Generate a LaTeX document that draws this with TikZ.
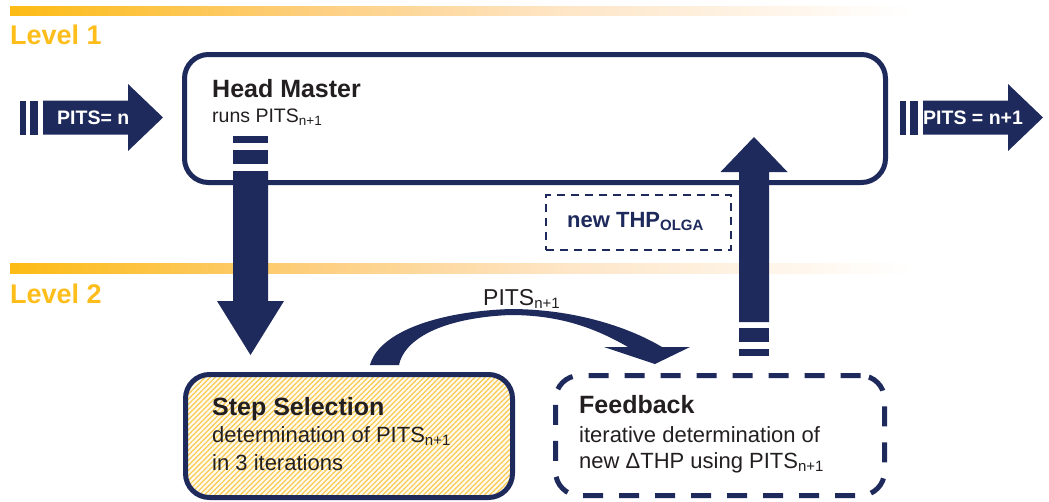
\documentclass[tikz,border=0pt]{standalone}
\usepackage{fontspec}
\usepackage{graphicx}
\setmainfont{Liberation Sans}
\usetikzlibrary{patterns.meta,calc}

\definecolor{navy}{RGB}{30,42,92}
\definecolor{gold}{RGB}{253,189,26}
\definecolor{ink}{RGB}{35,31,32}
\definecolor{hatch}{RGB}{250,202,80}
\definecolor{cream}{RGB}{255,251,238}
\definecolor{barA}{RGB}{253,187,20}
\definecolor{barB}{RGB}{253,207,128}
\definecolor{barC}{RGB}{254,230,200}
\definecolor{barD}{RGB}{255,255,255}

% lowered, smaller index text
\newcommand{\lowidx}[2]{\raisebox{-3.5pt}{\fontsize{#1}{#1}\selectfont #2}}

% fading rule for the level headings (the path spans 25bp to 75bp)
\pgfdeclarehorizontalshading{levelbar}{100bp}{%
  color(0bp)=(barA); color(25bp)=(barA); color(42bp)=(barB);
  color(56bp)=(barC); color(75bp)=(barD); color(100bp)=(barD)}

\begin{document}
\begin{tikzpicture}[x=1pt,y=-1pt,
  leveltext/.style={anchor=base west,inner sep=0pt,text=gold,
    font=\bfseries\fontsize{27}{27}\selectfont},
  title/.style={anchor=base west,inner sep=0pt,text=ink,
    font=\bfseries\fontsize{25}{25}\selectfont},
  body/.style={anchor=base west,inner sep=0pt,text=ink,
    font=\fontsize{22}{22}\selectfont},
  roundbox/.style={line width=5pt,rounded corners=24pt,inner sep=0pt,
    outer sep=0pt},
  hmbox/.style={roundbox,draw=navy,minimum width=701pt,minimum height=128pt},
  stepbox/.style={roundbox,draw=navy,minimum width=327pt,minimum height=123pt,
    preaction={fill=cream},
    pattern={Lines[angle=45,distance=3.6pt,line width=1.2pt]},
    pattern color=hatch},
  fbbox/.style={roundbox,draw=navy,dash pattern=on 20pt off 16pt,
    minimum width=329pt,minimum height=120pt},
  thpbox/.style={draw=navy,line width=2pt,dash pattern=on 8pt off 6pt,
    minimum width=185pt,minimum height=55pt,inner sep=0pt},
  pics/fatarrow/.style args={#1/#2/#3/#4}{code={
    \fill[navy] (0,-#2) -- (#1,-#2) -- (#1,-#4) -- ({#1+#3},0)
      -- (#1,#4) -- (#1,#2) -- (0,#2) -- cycle;}},
  stripe/.style={fill=navy}
]
\useasboundingbox (0,0) rectangle (1049,501);

% level rules and headings
\shade[shading=levelbar] (10,6) rectangle (913,15);
\shade[shading=levelbar] (10,263) rectangle (913,273);
\node[leveltext] (lv1) at (10,44) {Level 1};
\node[leveltext] (lv2) at (10,303) {Level 2};

% boxes
\node[hmbox] (hm) at (535,118.5) {};
\node[stepbox] (ss) at (349,436) {};
\node[fbbox] (fb) at (720,435.5) {};
\node[thpbox] (thp) at (638.5,222.5) {};

% box texts
\node[title] (hmt) at (212,97) {Head Master};
\node[body,font=\fontsize{19.5}{19.5}\selectfont] (hms) at (212,122)
  {runs PITS\lowidx{13.5pt}{n+1}};
\node[title] (sst) at (212,415) {Step Selection};
\node[body] (ss1) at (212,442) {determination of PITS\lowidx{15pt}{n+1}};
\node[body] (ss2) at (212,470) {in 3 iterations};
\node[title] (fbt) at (579,413) {Feedback};
\node[body] (fb1) at (579,442) {iterative determination of};
\node[body] (fb2) at (579,468) {new ΔTHP using PITS\lowidx{15pt}{n+1}};
\node[anchor=base west,inner sep=0pt,text=navy,
  font=\bfseries\fontsize{22}{22}\selectfont] (thpt) at (567,227)
  {new THP\lowidx{15pt}{OLGA}};

% anchor points of the block arrows
\coordinate (inA) at (43,117.5);
\coordinate (outA) at (923,117.5);
\coordinate (downA) at (250.5,171);
\coordinate (upA) at (754,322);

% incoming PITS arrow
\fill[stripe] (20,100.5) rectangle (25.5,134.5);
\fill[stripe] (29.5,100.5) rectangle (38,134.5);
\pic at (inA) {fatarrow=85/17/35/33.5};
\node[anchor=west,inner sep=0pt,text=white,
  font=\bfseries\fontsize{19.5}{19.5}\selectfont] (inT) at (57,118) {PITS= n};

% outgoing PITS arrow
\fill[stripe] (900,100.5) rectangle (905.5,134.5);
\fill[stripe] (909.5,100.5) rectangle (918,134.5);
\pic at (outA) {fatarrow=85/17/35/33.5};
\node[anchor=west,inner sep=0pt,text=white,
  font=\bfseries\fontsize{19.5}{19.5}\selectfont] (outT) at (923,118) {PITS = n+1};

% Head Master down to Step Selection
\fill[stripe] (233,136) rectangle (268,143);
\fill[stripe] (233,150) rectangle (268,164);
\pic[rotate=-90] at (downA) {fatarrow=130/17.5/54/33.5};

% Feedback up to Head Master
\fill[stripe] (739,328) rectangle (769,342);
\fill[stripe] (739,349) rectangle (769,356);
\pic[rotate=90] at (upA) {fatarrow=150/15/35/33.5};

% curved arrow from Step Selection to Feedback
\fill[navy] (370,365) .. controls (378,335) and (430,312) .. (510,309)
  .. controls (570,309) and (625,325) .. (662,347)
  -- (690,347) -- (655,364) -- (604,347) -- (628,347)
  .. controls (595,328) and (560,315) .. (510,315)
  .. controls (440,318) and (404,340) .. (399,365) -- cycle;
\node[anchor=base west,inner sep=0pt,text=ink,
  font=\fontsize{23}{23}\selectfont] (cvl) at (483,305) {PITS\lowidx{15pt}{n+1}};
\end{tikzpicture}
\end{document}
